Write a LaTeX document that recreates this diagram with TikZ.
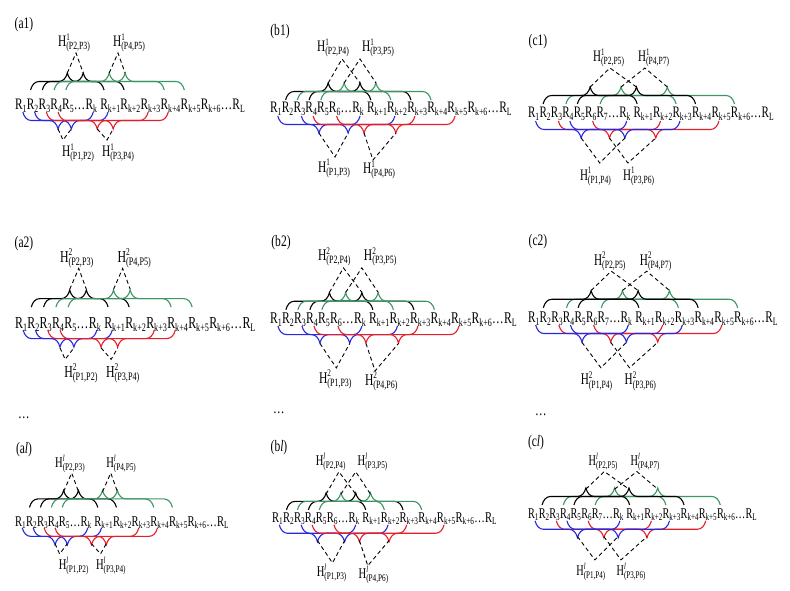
\documentclass[tikz,border=0pt]{standalone}
\usepackage{fontspec}
\setmainfont{Liberation Serif}
\usetikzlibrary{decorations.pathreplacing}
\definecolor{pgreen}{RGB}{60,150,100}
\definecolor{pblue}{RGB}{40,40,225}
\definecolor{pred}{RGB}{230,30,40}
\tikzset{
  res/.style={font=\fontsize{16}{16}\selectfont, inner sep=0pt, anchor=base west, xscale=.71},
  hl/.style={res},
  lab/.style={font=\fontsize{16}{16}\selectfont, inner sep=0pt, xscale=.72},
  upbrace/.style={decorate, decoration={brace, amplitude=8.5pt, transform={yscale=2}}, line width=1.1pt},
  dnbrace/.style={decorate, decoration={brace, mirror, amplitude=8.5pt, transform={yscale=2}}, line width=1.1pt},
  hdash/.style={dash pattern=on 4pt off 3pt, line width=.9pt},
}
\newcommand{\dn}[1]{\raisebox{-3pt}{\fontsize{11}{11}\selectfont #1}}
\newcommand{\supr}[1]{\raisebox{6.5pt}{\fontsize{10}{10}\selectfont #1}}
\newcommand{\rs}[1]{R\dn{#1}}
\newcommand{\hlab}[2]{H\rlap{\supr{#1}}\dn{(#2)}}
% residue row: R1 ... Rn ... Rk Rk+1 ... Rk+6 ... RL
\newcommand{\seq}[1]{%
  \node[res] (r1) at (0,0) {\rs{1}};
  \foreach \i [remember=\i as \q (initially 1)] in {2,...,#1}
    \node[res] (r\i) at (r\q.base east) {\rs{\i}};
  \node[res] (d1) at (r#1.base east) {…};
  \node[res] (rk0) at (d1.base east) {\rs{k}};
  \node[res] (rk1) at ([xshift=3pt]rk0.base east) {\rs{k+1}};
  \foreach \i [remember=\i as \q (initially 1)] in {2,...,6}
    \node[res] (rk\i) at (rk\q.base east) {\rs{k+\i}};
  \node[res] (d2) at (rk6.base east) {…};
  \node[res] (rl) at (d2.base east) {\rs{L}};
}
\newcommand{\topbr}[4]{\draw[upbrace,#1] ([xshift=3.8pt,yshift=\tgap]#2.base west) -- ([xshift=3.8pt,yshift=\tgap]#3.base west) coordinate[midway,yshift=17pt] (#4);}
\newcommand{\botbr}[4]{\draw[dnbrace,#1] ([xshift=7.8pt,yshift=\bgap]#2.base west) -- ([xshift=7.8pt,yshift=\bgap]#3.base west) coordinate[midway,yshift=-17pt] (#4);}
% panel (a)
\newcommand{\panelA}[1]{%
  \seq{5}
  \def\tgap{20pt}\def\bgap{-2pt}
  \topbr{black}{r2}{rk1}{t2}
  \topbr{black}{r3}{rk2}{t3}
  \topbr{pgreen}{r4}{rk4}{t4}
  \topbr{pgreen}{r5}{rk5}{t5}
  \botbr{pblue}{r1}{rk0}{b1}
  \botbr{pblue}{r2}{rk1}{b2}
  \botbr{pred}{r3}{rk3}{b3}
  \botbr{pred}{r4}{rk4}{b4}
  \coordinate (u23) at (61,57);
  \coordinate (u45) at (103,57);
  \coordinate (v12) at (48,-30);
  \coordinate (v34) at (92,-30);
  \draw[hdash] (t2) -- (u23) -- (t3);
  \draw[hdash] (t4) -- (u45) -- (t5);
  \draw[hdash] (b1) -- (v12) -- (b2);
  \draw[hdash] (b3) -- (v34) -- (b4);
  \node[hl] (h23) at (43,63) {\hlab{#1}{P2,P3}};
  \node[hl] (h45) at (98,63) {\hlab{#1}{P4,P5}};
  \node[hl] (h12) at (47,-47) {\hlab{#1}{P1,P2}};
  \node[hl] (h34) at (87,-47) {\hlab{#1}{P3,P4}};
}
% panel (b)
\newcommand{\panelB}[1]{%
  \seq{6}
  \def\tgap{13pt}\def\bgap{-3pt}
  \topbr{black}{r2}{rk1}{t2}
  \topbr{black}{r4}{rk3}{t4}
  \topbr{pgreen}{r3}{rk2}{t3}
  \topbr{pgreen}{r5}{rk4}{t5}
  \botbr{pblue}{r1}{rk0}{b1}
  \botbr{pblue}{r3}{rk2}{b3}
  \botbr{pred}{r4}{rk3}{b4}
  \botbr{pred}{r6}{rk5}{b6}
  \coordinate (u24) at (72,54);
  \coordinate (u35) at (90,54);
  \coordinate (v13) at (65,-44);
  \coordinate (v46) at (103,-47);
  \draw[hdash] (t2) -- (u24) -- (t4);
  \draw[hdash] (t3) -- (u35) -- (t5);
  \draw[hdash] (b1) -- (v13) -- (b3);
  \draw[hdash] (b4) -- (v46) -- (b6);
  \node[hl] (h24) at (47,61) {\hlab{#1}{P2,P4}};
  \node[hl] (h35) at (92,61) {\hlab{#1}{P3,P5}};
  \node[hl] (h13) at (48,-59) {\hlab{#1}{P1,P3}};
  \node[hl] (h46) at (93,-61) {\hlab{#1}{P4,P6}};
}
% panel (c)
\newcommand{\panelC}[1]{%
  \seq{7}
  \def\tgap{14pt}\def\bgap{-3pt}
  \topbr{pgreen}{r4}{rk3}{t4}
  \topbr{pgreen}{r7}{rk6}{t7}
  \topbr{black}{r2}{rk1}{t2}
  \topbr{black}{r5}{rk4}{t5}
  \botbr{pred}{r3}{rk2}{b3}
  \botbr{pred}{r6}{rk5}{b6}
  \botbr{pblue}{r1}{rk0}{b1}
  \botbr{pblue}{r4}{rk3}{b4}
  \coordinate (u25) at (84.5,50);
  \coordinate (u47) at (120.5,50);
  \coordinate (v14) at (74,-45);
  \coordinate (v36) at (103,-45);
  \draw[hdash] (t2) -- (u25) -- (t5);
  \draw[hdash] (t4) -- (u47) -- (t7);
  \draw[hdash] (b1) -- (v14) -- (b4);
  \draw[hdash] (b3) -- (v36) -- (b6);
  \node[hl] (h25) at (67,56) {\hlab{#1}{P2,P5}};
  \node[hl] (h47) at (113.5,56) {\hlab{#1}{P4,P7}};
  \node[hl] (h14) at (53.5,-62) {\hlab{#1}{P1,P4}};
  \node[hl] (h36) at (98,-62) {\hlab{#1}{P3,P6}};
}
\begin{document}
\begin{tikzpicture}[x=1pt,y=1pt]
  \path[fill=white] (0,0) rectangle (790,-591);
  % panel labels
  \node[lab] (la1) at (24,-25) {(a1)};
  \node[lab] (lb1) at (280,-32) {(b1)};
  \node[lab] (lc1) at (538,-42) {(c1)};
  \node[lab] (la2) at (24,-244) {(a2)};
  \node[lab] (lb2) at (281,-243) {(b2)};
  \node[lab] (lc2) at (538,-242) {(c2)};
  \node[lab] (ea) at (24,-418) {…};
  \node[lab] (eb) at (279,-413) {…};
  \node[lab] (ec) at (541,-415) {…};
  \node[lab] (lal) at (24,-450) {(a\textit{l})};
  \node[lab] (lbl) at (279,-448) {(b\textit{l})};
  \node[lab] (lcl) at (536,-443) {(c\textit{l})};
  % first row
  \begin{scope}[shift={(15,-110)},transform shape,name prefix=a1-]
    \panelA{1}
  \end{scope}
  \begin{scope}[shift={(270,-113)},transform shape,name prefix=b1-]
    \panelB{1}
  \end{scope}
  \begin{scope}[shift={(528,-118)},xscale=.97,transform shape,name prefix=c1-]
    \panelC{1}
  \end{scope}
  % second row
  \begin{scope}[shift={(15,-328)},scale=1.045,transform shape,name prefix=a2-]
    \panelA{2}
  \end{scope}
  \begin{scope}[shift={(270,-323)},scale=1.02,transform shape,name prefix=b2-]
    \panelB{2}
  \end{scope}
  \begin{scope}[shift={(528,-322)},xscale=.985,yscale=1.016,transform shape,name prefix=c2-]
    \panelC{2}
  \end{scope}
  % last row
  \begin{scope}[shift={(15,-526)},scale=.93,transform shape,name prefix=al-]
    \panelA{\textit{l}}
  \end{scope}
  \begin{scope}[shift={(272,-522)},scale=.93,transform shape,name prefix=bl-]
    \panelB{\textit{l}}
  \end{scope}
  \begin{scope}[shift={(528,-518)},xscale=.903,yscale=.93,transform shape,name prefix=cl-]
    \panelC{\textit{l}}
  \end{scope}
\end{tikzpicture}
\end{document}
